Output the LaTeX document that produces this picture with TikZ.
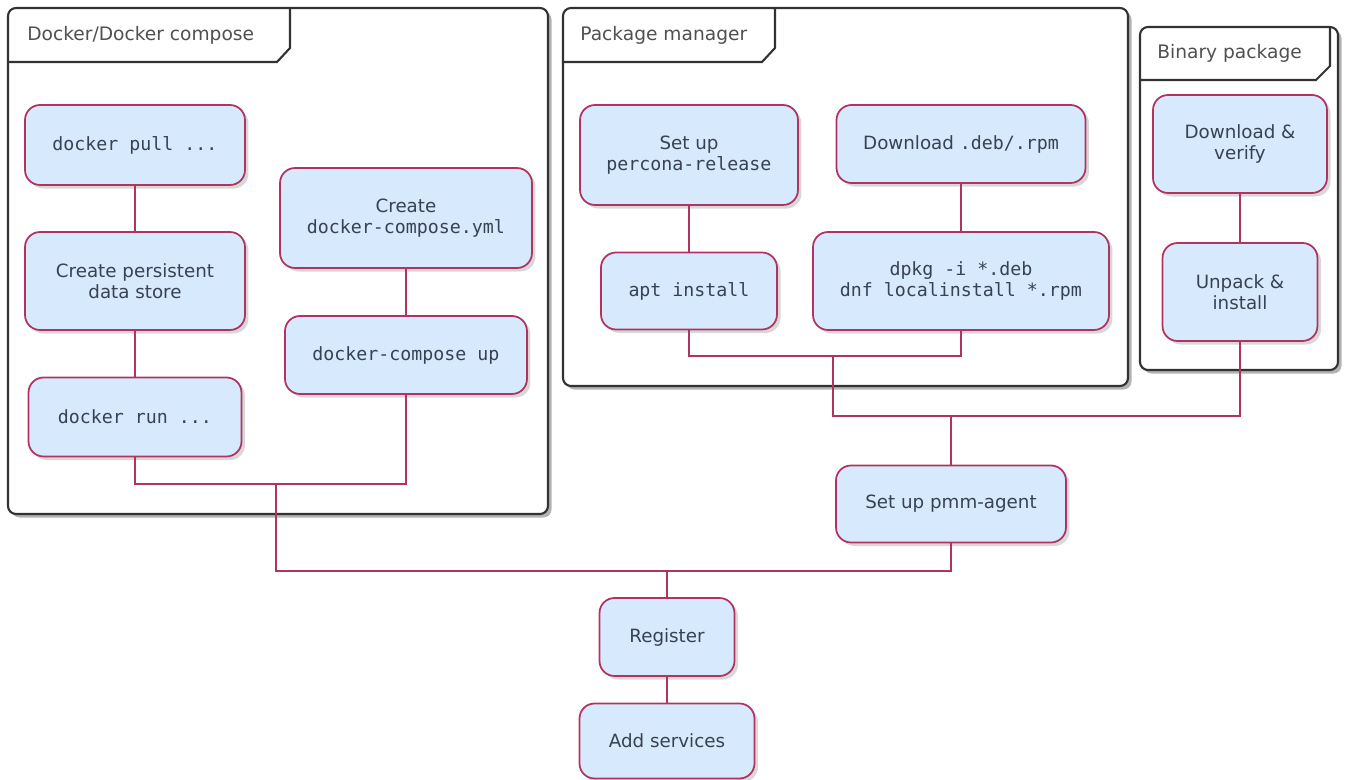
\documentclass[tikz,border=0pt]{standalone}
\usepackage{fontspec}
\setmainfont{DejaVu Sans}
\setmonofont{DejaVu Sans Mono}
\usepackage{tikz}
\usetikzlibrary{shapes.geometric, arrows}
\usetikzlibrary{shadows}
\usetikzlibrary{positioning}
\definecolor{actfill}{RGB}{215,233,252}
\definecolor{actline}{RGB}{176,52,98}
\definecolor{acttext}{RGB}{55,66,82}
\definecolor{framegray}{RGB}{50,50,50}
\definecolor{titlegray}{RGB}{80,80,80}
\tikzstyle{act} = [rectangle, rounded corners=0.3cm, draw=actline, line width=1pt, fill=actfill, text=acttext, align=center, inner sep=0pt, font=\fontsize{10.4}{12}\selectfont, drop shadow={shadow xshift=2pt, shadow yshift=-2pt, opacity=0.3}]
\tikzstyle{link} = [draw=actline, line width=0.85pt]
\tikzstyle{frame} = [draw=framegray, line width=1.2pt, fill=white, rounded corners=0.16cm, drop shadow={shadow xshift=2pt, shadow yshift=-2pt, opacity=0.6}]
\tikzstyle{tab} = [draw=framegray, line width=1.2pt]
\tikzstyle{ftitle} = [anchor=west, inner sep=0pt, text=titlegray, font=\fontsize{10.6}{12}\selectfont]

\begin{document}
\begin{tikzpicture}[x=0.02cm, y=-0.02cm]
                        \useasboundingbox (0,0) rectangle (1347,780);
                        \draw [frame] (8,8) rectangle (548,514);
                        \draw [tab] (8,62) -- (277,62) -- (290,48) -- (290,8);
                        \node [ftitle] (dockttl) at (27,35) {Docker/Docker compose};
                        \draw [frame] (563,8) rectangle (1128,386);
                        \draw [tab] (563,62) -- (762,62) -- (775,48) -- (775,8);
                        \node [ftitle] (pkgttl) at (580,35) {Package manager};
                        \draw [frame] (1140,27) rectangle (1338,370);
                        \draw [tab] (1140,80) -- (1316,80) -- (1330,66) -- (1330,27);
                        \node [ftitle] (binttl) at (1157,53) {Binary package};
                        \node [act, minimum width=4.4cm, minimum height=1.6cm] (pull) at (135,145) {\ttfamily docker pull ...};
                        \node [act, minimum width=4.4cm, minimum height=1.96cm] (persist) at (135,281) {Create persistent\\data store};
                        \node [act, minimum width=4.26cm, minimum height=1.58cm] (run) at (135,417) {\ttfamily docker run ...};
                        \node [act, minimum width=5.04cm, minimum height=2cm] (create) at (406,218) {Create\\\texttt{docker-compose.yml}};
                        \node [act, minimum width=4.84cm, minimum height=1.56cm] (up) at (406,355) {\ttfamily docker-compose up};
                        \node [act, minimum width=4.36cm, minimum height=2cm] (percona) at (689,155) {Set up\\\texttt{percona-release}};
                        \node [act, minimum width=3.52cm, minimum height=1.54cm] (apt) at (689,291) {\ttfamily apt install};
                        \node [act, minimum width=4.98cm, minimum height=1.56cm] (debdl) at (961,144) {Download \texttt{.deb/.rpm}};
                        \node [act, minimum width=5.92cm, minimum height=1.96cm] (dpkg) at (961,281) {\ttfamily dpkg -i *.deb\\\ttfamily dnf localinstall *.rpm};
                        \node [act, minimum width=3.48cm, minimum height=1.96cm] (verify) at (1240,144) {Download \&\\verify};
                        \node [act, minimum width=3.1cm, minimum height=1.96cm] (unpack) at (1240,292) {Unpack \&\\install};
                        \node [act, minimum width=4.6cm, minimum height=1.54cm] (pmm) at (951,504) {Set up pmm-agent};
                        \node [act, minimum width=2.7cm, minimum height=1.56cm] (register) at (667,637) {Register};
                        \node [act, minimum width=3.5cm, minimum height=1.5cm] (addsvc) at (667,741) {Add services};
                        \coordinate (dockbar) at (276,484);
                        \coordinate (pkgbar) at (833,356);
                        \coordinate (midbar) at (951,416);
                        \coordinate (mainbar) at (667,571);
                        \draw [link] (pull) -- (persist);
                        \draw [link] (persist) -- (run);
                        \draw [link] (create) -- (up);
                        \draw [link] (run.south) |- (dockbar) -| (up.south);
                        \draw [link] (percona) -- (apt);
                        \draw [link] (debdl) -- (dpkg);
                        \draw [link] (apt.south) |- (pkgbar) -| (dpkg.south);
                        \draw [link] (verify) -- (unpack);
                        \draw [link] (pkgbar) |- (midbar) -| (unpack.south);
                        \draw [link] (midbar) -- (pmm);
                        \draw [link] (dockbar) |- (mainbar) -| (pmm.south);
                        \draw [link] (mainbar) -- (register);
                        \draw [link] (register) -- (addsvc);
                    \end{tikzpicture}
\end{document}
